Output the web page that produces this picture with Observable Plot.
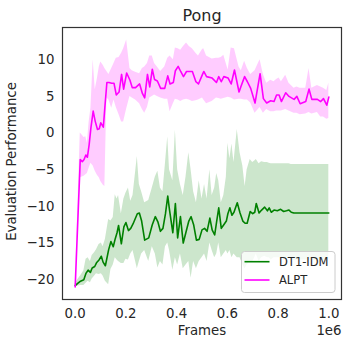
<!DOCTYPE html>
<html><head><meta charset="utf-8">
<script src="https://cdn.jsdelivr.net/npm/d3@7"></script>
<script src="https://cdn.jsdelivr.net/npm/@observablehq/plot@0.6"></script>
<style>body{margin:0;background:#fff;} svg{display:block}</style>
</head><body><div id="chart"></div>
<script>
// Frames are in units of 1e6
const seriesNames = ["DT1-IDM", "ALPT"];
const seriesColors = ["#008000", "#ff00ff"];
const xTicks = [0, 0.2, 0.4, 0.6, 0.8, 1.0];
const yTicks = [-20, -15, -10, -5, 0, 5, 10];

const dt1Frames = [0.000,0.010,0.021,0.034,0.043,0.051,0.060,0.067,0.077,0.084,
  0.094,0.103,0.110,0.119,0.132,0.141,0.150,0.158,0.165,0.171,
  0.182,0.192,0.200,0.210,0.219,0.228,0.245,0.253,0.262,0.274,
  0.290,0.304,0.316,0.326,0.336,0.346,0.356,0.365,0.372,0.385,
  0.395,0.404,0.415,0.426,0.437,0.448,0.457,0.467,0.478,0.489,
  0.500,0.510,0.520,0.531,0.540,0.550,0.558,0.566,0.576,0.586,
  0.596,0.602,0.610,0.618,0.626,0.639,0.650,0.661,0.670,0.678,
  0.690,0.700,0.708,0.714,0.725,0.735,0.747,0.758,0.765,0.773,
  0.784,0.797,0.810,0.822,0.833,0.843,0.852,0.862,1.000];
const dt1Mean = [-20.8,-20.5,-20.2,-20.0,-19.1,-18.7,-19.0,-18.4,-18.2,-17.7,
  -17.3,-16.8,-17.6,-18.1,-15.9,-14.8,-15.5,-14.4,-13.6,-12.6,
  -15.1,-12.8,-12.2,-13.3,-13.0,-12.4,-11.0,-10.9,-12.0,-14.6,
  -14.3,-12.5,-11.4,-12.1,-13.4,-13.0,-11.0,-8.6,-10.5,-13.6,
  -9.6,-14.3,-11.4,-15.0,-13.5,-12.0,-11.4,-12.5,-14.6,-14.5,
  -13.2,-13.0,-13.4,-11.6,-13.2,-13.9,-12.0,-10.2,-13.0,-12.5,
  -12.0,-11.0,-10.2,-11.2,-10.8,-9.5,-10.9,-12.0,-12.3,-12.3,
  -10.7,-11.0,-10.8,-9.6,-10.9,-10.5,-10.1,-10.6,-10.2,-10.8,
  -10.5,-10.6,-10.4,-10.7,-10.6,-10.5,-10.8,-10.9,-10.9];
const dt1Low = [-21.0,-20.9,-20.8,-20.8,-20.5,-20.2,-20.4,-19.9,-19.5,-19.2,
  -19.3,-19.2,-19.5,-20.2,-20.7,-18.6,-18.0,-17.0,-17.3,-17.5,
  -17.8,-17.8,-17.2,-17.3,-16.5,-16.0,-18.5,-17.5,-16.5,-16.0,
  -17.5,-15.5,-16.5,-18.4,-17.5,-18.0,-15.5,-15.0,-16.0,-18.7,
  -17.0,-18.0,-16.5,-18.5,-18.0,-17.5,-19.8,-17.5,-18.5,-17.5,
  -17.0,-16.5,-17.5,-15.0,-16.0,-17.0,-16.5,-15.0,-17.0,-16.5,
  -16.0,-16.5,-16.0,-17.0,-16.5,-17.0,-17.0,-18.0,-18.5,-18.0,
  -17.5,-17.5,-17.0,-16.5,-17.5,-17.0,-16.8,-17.0,-17.0,-17.3,
  -17.0,-17.0,-17.0,-17.1,-17.0,-17.0,-17.2,-17.3,-17.3];
const dt1High = [-20.6,-20.0,-19.5,-18.8,-17.2,-17.0,-17.5,-16.7,-16.3,-15.9,
  -15.2,-15.0,-15.5,-14.5,-11.8,-12.0,-11.5,-8.4,-9.0,-8.5,
  -11.0,-9.0,-8.2,-7.5,-9.3,-8.5,-3.2,-7.0,-8.0,-9.5,
  -9.2,-7.5,-6.0,-5.2,-7.5,-8.0,-4.1,-0.5,-5.0,-6.5,
  0.4,-5.0,-7.0,-8.5,-6.0,-2.7,-5.0,-8.0,-9.5,-6.5,
  -9.0,-7.0,-9.0,-5.0,-8.5,-7.5,-5.5,-6.5,-9.5,-8.5,
  -6.0,-1.4,-3.5,-1.5,-4.0,0.5,-2.7,-4.5,-7.3,-5.0,
  -3.6,-4.0,-3.8,-3.6,-4.2,-3.9,-4.0,-4.0,-4.1,-4.2,
  -4.2,-4.2,-4.2,-4.2,-4.2,-4.2,-4.3,-4.3,-4.3];

const alptFrames = [0.000,0.020,0.028,0.035,0.042,0.048,0.055,0.062,0.071,0.079,
  0.088,0.095,0.101,0.111,0.117,0.125,0.133,0.144,0.153,0.162,
  0.173,0.183,0.191,0.203,0.216,0.225,0.238,0.254,0.265,0.274,
  0.285,0.294,0.304,0.313,0.324,0.337,0.353,0.365,0.374,0.387,
  0.395,0.406,0.416,0.427,0.439,0.450,0.462,0.476,0.486,0.502,
  0.507,0.518,0.540,0.557,0.566,0.576,0.586,0.603,0.615,0.628,
  0.646,0.655,0.668,0.679,0.692,0.709,0.729,0.742,0.755,0.771,
  0.784,0.794,0.804,0.813,0.830,0.843,0.863,0.874,0.887,0.909,
  0.922,0.933,0.955,0.968,0.979,0.992,1.000];
const alptMean = [-21.0,-3.6,-3.9,-3.6,-3.0,-3.3,-1.6,0.7,3.0,1.6,
  0.5,0.6,1.4,0.8,3.5,6.9,6.9,6.8,6.8,5.2,
  5.6,8.0,6.0,8.2,7.2,6.2,6.2,6.7,5.4,4.8,
  8.0,6.3,8.7,7.3,7.1,6.1,6.1,7.8,6.7,6.9,
  8.5,9.1,8.4,7.7,8.4,8.4,8.4,7.0,6.7,8.0,
  8.4,7.7,7.5,6.9,7.7,7.0,7.7,7.5,6.7,8.6,
  5.6,6.5,7.7,7.0,6.1,4.1,8.1,4.7,4.1,4.4,
  4.3,5.2,5.2,4.3,5.5,5.0,4.6,5.0,4.0,4.3,
  6.0,4.6,4.6,4.3,4.7,3.8,4.9];
const alptLow = [-21.0,-6.1,-6.0,-5.9,-5.7,-5.5,-4.8,-4.1,-4.5,-5.2,
  -5.8,-6.1,-6.6,-7.1,-7.3,4.8,4.5,3.4,4.5,3.5,
  2.5,1.5,1.5,3.3,5.0,4.8,4.5,4.0,3.2,2.7,
  3.5,4.8,5.0,5.2,5.0,4.8,4.6,4.6,2.9,4.0,
  4.6,4.5,4.3,4.5,4.6,4.5,4.3,4.4,4.5,4.8,
  4.5,4.0,4.3,4.8,4.7,4.6,4.7,4.9,4.8,4.5,
  4.6,4.6,4.5,4.5,4.1,2.7,3.5,2.7,3.2,2.9,
  2.9,3.0,3.0,3.0,3.2,3.0,2.7,2.7,2.5,2.6,
  2.8,2.6,2.8,2.2,2.2,1.9,2.0];
const alptHigh = [-21.0,0.0,-0.3,-0.6,-0.5,-1.4,1.5,3.4,10.0,5.9,
  7.5,9.0,9.7,9.2,8.8,8.4,8.0,8.8,9.5,10.2,
  10.3,10.9,11.5,12.7,8.8,8.5,8.3,8.1,8.8,9.0,
  9.5,10.5,10.5,9.5,9.0,8.4,9.0,10.2,10.5,10.0,
  11.6,11.5,11.3,11.8,12.3,11.8,11.5,10.9,10.5,11.4,
  11.5,10.5,10.1,10.2,10.2,10.3,10.6,8.6,11.6,11.5,
  9.0,8.5,9.8,8.8,8.0,8.5,10.0,8.0,6.8,7.2,
  7.0,7.3,7.5,7.0,7.9,6.8,6.1,6.3,6.1,6.1,
  8.8,6.1,6.5,6.3,6.1,5.8,6.8];

const dt1Rows = dt1Frames.map((f, i) => ({frame: f, mean: dt1Mean[i], lo: dt1Low[i], hi: dt1High[i]}));
const alptRows = alptFrames.map((f, i) => ({frame: f, mean: alptMean[i], lo: alptLow[i], hi: alptHigh[i]}));

const fmtMinus = d => d < 0 ? "\u2212" + Math.abs(d) : String(d);
const font = "DejaVu Sans";

const chart = Plot.plot({
  width: 348, height: 345,
  marginLeft: 62, marginRight: 7, marginTop: 27, marginBottom: 46,
  style: {fontFamily: font, fontSize: "13.3px", color: "#262626", background: "white", overflow: "visible"},
  x: {domain: [-0.05, 1.05]},
  y: {domain: [-22.7, 14.4]},
  marks: [
    Plot.areaY(dt1Rows, {x: "frame", y1: "lo", y2: "hi", fill: seriesColors[0], fillOpacity: 0.2, curve: "linear"}),
    Plot.areaY(alptRows, {x: "frame", y1: "lo", y2: "hi", fill: seriesColors[1], fillOpacity: 0.2, curve: "linear"}),
    Plot.lineY(dt1Rows, {x: "frame", y: "mean", stroke: seriesColors[0], strokeWidth: 1.6}),
    Plot.lineY(alptRows, {x: "frame", y: "mean", stroke: seriesColors[1], strokeWidth: 1.6}),
    Plot.axisX({ticks: xTicks, tickSize: 0, tickPadding: 9, tickFormat: d3.format(".1f"), label: null, fontSize: 13.3}),
    Plot.axisY({ticks: yTicks, tickSize: 0, tickPadding: 8, tickFormat: fmtMinus, label: null, fontSize: 13.3}),
    Plot.frame({stroke: "#333333", strokeWidth: 1.2}),
    Plot.text(["Pong"], {frameAnchor: "top", dy: -11.5, fontSize: 16, lineAnchor: "middle", fill: "#262626"}),
    Plot.text(["Frames"], {frameAnchor: "bottom", dy: 31.5, fontSize: 13.3, lineAnchor: "middle", fill: "#262626"}),
    Plot.text(["1e6"], {frameAnchor: "bottom-right", dy: 31.5, fontSize: 13.3, lineAnchor: "middle", textAnchor: "end", fill: "#262626"}),
    Plot.text(["Evaluation Performance"], {frameAnchor: "left", dx: -50.5, dy: -2, rotate: -90, fontSize: 13.3, lineAnchor: "middle", textAnchor: "middle", fill: "#262626"})
  ]
});

// Legend (matplotlib-style, lower right)
const svg = d3.select(chart);
const frameRight = 348 - 7, frameBottom = 345 - 46;
const lgW = 93.5, lgH = 41, lgX = frameRight - 6 - lgW, lgY = frameBottom - 6.5 - lgH;
const lg = svg.append("g").attr("font-family", font).attr("font-size", 11.5).attr("text-anchor", "start");
lg.append("rect").attr("x", lgX).attr("y", lgY).attr("width", lgW).attr("height", lgH)
  .attr("rx", 3).attr("fill", "white").attr("fill-opacity", 0.8).attr("stroke", "#cccccc").attr("stroke-width", 1);
seriesNames.forEach((name, i) => {
  const yy = lgY + 10.2 + i * 18.3;
  lg.append("line").attr("x1", lgX + 3).attr("x2", lgX + 28).attr("y1", yy).attr("y2", yy)
    .attr("stroke", seriesColors[i]).attr("stroke-width", 1.6);
  lg.append("text").attr("x", lgX + 37.5).attr("y", yy).attr("dy", "0.36em")
    .attr("text-anchor", "start").attr("fill", "#262626").text(name);
});

document.getElementById("chart").appendChild(chart);
</script></body></html>
